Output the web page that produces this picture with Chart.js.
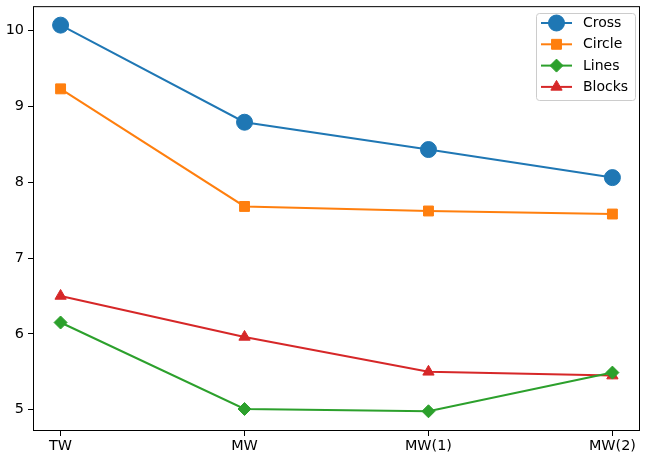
<!DOCTYPE html>
<html>
<head>
<meta charset="utf-8">
<script src="https://cdn.jsdelivr.net/npm/chart.js@4/dist/chart.umd.min.js"></script>
<style>
  html, body { margin: 0; padding: 0; background: #fff; }
  #wrap { width: 646px; height: 458px; }
</style>
</head>
<body>
<div id="wrap"><canvas id="graph" width="646" height="458"></canvas></div>
<script>
// data
const categories = ["TW", "MW", "MW(1)", "MW(2)"];
const crossVals = [10.07, 8.79, 8.43, 8.06];
const circleVals = [9.23, 7.68, 7.62, 7.58];
const linesVals = [6.15, 5.01, 4.98, 5.49];
const blocksVals = [6.5, 5.96, 5.5, 5.45];
const yTicks = [5, 6, 7, 8, 9, 10];

const FONT = "'DejaVu Sans', sans-serif";

function pts(vals) {
  return vals.map((v, i) => ({ x: i, y: v }));
}

function series(label, vals, color, style, radius) {
  return {
    label: label,
    data: pts(vals),
    borderColor: color,
    backgroundColor: color,
    borderWidth: 2,
    pointStyle: style,
    pointRadius: radius,
    pointHoverRadius: radius,
    pointBorderWidth: 1,
    pointBorderColor: color,
    pointBackgroundColor: color,
    tension: 0,
    clip: false
  };
}

// -------------------------
// frame + legend (matplotlib look)
// -------------------------
const framePlugin = {
  id: "frame",
  afterDatasetsDraw(chart) {
    const a = chart.chartArea;
    const ctx = chart.ctx;
    ctx.save();
    ctx.strokeStyle = "#000";
    ctx.lineWidth = 1;
    ctx.strokeRect(a.left + 0.5, a.top + 0.5, a.right - a.left - 1, a.bottom - a.top - 1);

    // legend box
    const bx = 536, by = 13, bw = 99, bh = 87;
    ctx.fillStyle = "rgba(255,255,255,0.8)";
    ctx.strokeStyle = "#cccccc";
    ctx.beginPath();
    ctx.roundRect(bx + 0.5, by + 0.5, bw, bh, 3);
    ctx.fill();
    ctx.stroke();

    ctx.font = "14px " + FONT;
    ctx.textBaseline = "middle";
    ctx.textAlign = "left";
    chart.data.datasets.forEach((ds, i) => {
      const y = 23 + i * 21.3;
      ctx.strokeStyle = ds.borderColor;
      ctx.lineWidth = 2;
      ctx.beginPath();
      ctx.moveTo(541, y);
      ctx.lineTo(572, y);
      ctx.stroke();
      ctx.fillStyle = ds.borderColor;
      ctx.lineWidth = 1;
      Chart.helpers.drawPoint(ctx, { pointStyle: ds.pointStyle, rotation: 0, radius: ds.pointRadius, borderWidth: 1 }, 556.5, y);
      ctx.fillStyle = "#000";
      ctx.fillText(ds.label, 583, y + 0.5);
    });
    ctx.restore();
  }
};

const ctx = document.getElementById("graph").getContext("2d");

new Chart(ctx, {
  type: "line",
  data: {
    datasets: [
      series("Cross", crossVals, "#1f77b4", "circle", 8),
      series("Circle", circleVals, "#ff7f0e", "rect", 7),
      series("Lines", linesVals, "#2ca02c", "rectRot", 6.5),
      series("Blocks", blocksVals, "#d62728", "triangle", 6.5)
    ]
  },
  options: {
    responsive: false,
    animation: false,
    devicePixelRatio: 1,
    layout: { autoPadding: false, padding: { top: 5, right: 6, left: 0, bottom: 0 } },
    plugins: {
      legend: { display: false },
      tooltip: { enabled: false }
    },
    scales: {
      x: {
        type: "linear",
        min: -0.15,
        max: 3.15,
        afterBuildTicks(scale) {
          scale.ticks = categories.map((c, i) => ({ value: i }));
        },
        afterFit(scale) {
          scale.height = 27;
        },
        ticks: {
          color: "#000",
          font: { family: FONT, size: 14.4 },
          padding: 2,
          maxRotation: 0,
          callback: (v) => categories[v]
        },
        grid: {
          display: true,
          drawOnChartArea: false,
          drawTicks: true,
          tickLength: 5,
          color: "#000"
        },
        border: { display: false }
      },
      y: {
        type: "linear",
        min: 4.72,
        max: 10.32,
        afterBuildTicks(scale) {
          scale.ticks = yTicks.map((v) => ({ value: v }));
        },
        afterFit(scale) {
          scale.width = 33;
        },
        ticks: {
          color: "#000",
          font: { family: FONT, size: 14.4, lineHeight: 0.3 },
          padding: 4
        },
        grid: {
          display: true,
          drawOnChartArea: false,
          drawTicks: true,
          tickLength: 5,
          color: "#000"
        },
        border: { display: false }
      }
    }
  },
  plugins: [framePlugin]
});
</script>
</body>
</html>
